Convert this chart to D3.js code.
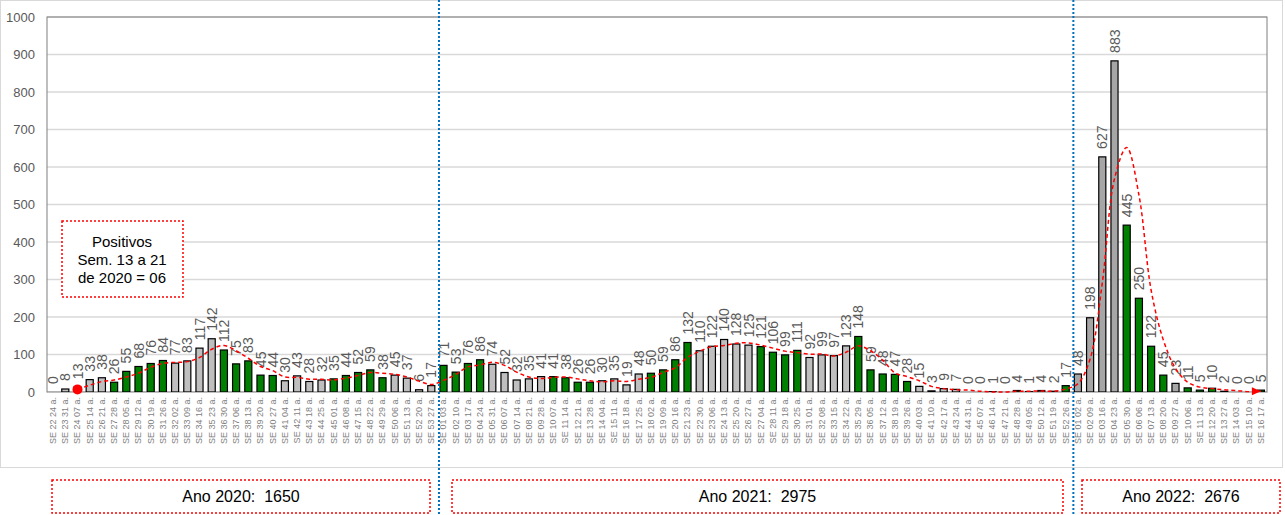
<!DOCTYPE html>
<html>
<head>
<meta charset="utf-8">
<script src="https://cdn.jsdelivr.net/npm/d3@7"></script>
<style>
  body { margin: 0; background: #fff; font-family: "Liberation Sans", Arial, sans-serif; }
  text { font-family: "Liberation Sans", Arial, sans-serif; }
</style>
</head>
<body>
<script>
// semanas epidemiologicas (rotulo do eixo)
var weeks2020 = ["SE 22 24 a.", "SE 23 31 a.", "SE 24 07 a.", "SE 25 14 a.", "SE 26 21 a.", "SE 27 28 a.", "SE 28 05 a.", "SE 29 12 a.",
    "SE 30 19 a.", "SE 31 26 a.", "SE 32 02 a.", "SE 33 09 a.", "SE 34 16 a.", "SE 35 23 a.", "SE 36 30 a.", "SE 37 06 a.",
    "SE 38 13 a.", "SE 39 20 a.", "SE 40 27 a.", "SE 41 04 a.", "SE 42 11 a.", "SE 43 18 a.", "SE 44 25 a.", "SE 45 01 a.",
    "SE 46 08 a.", "SE 47 15 a.", "SE 48 22 a.", "SE 49 29 a.", "SE 50 06 a.", "SE 51 13 a.", "SE 52 20 a.", "SE 53 27 a."];
var vals2020 = [0, 8, 13, 33, 38, 26, 55, 68, 76, 84, 77, 83, 117, 142, 112, 75, 83, 45, 44, 30, 43, 28, 32, 35, 44, 52, 59, 38, 45, 37, 6, 17];
var cols2020 = ["c", "c", "c", "c", "c", "g", "g", "g", "g", "g", "c", "c", "c", "c", "g", "g", "g", "g", "g", "c", "c", "c", "c", "g", "g", "g", "g", "g", "c", "c", "c", "c"];

var weeks2021 = ["SE 01 03 a.", "SE 02 10 a.", "SE 03 17 a.", "SE 04 24 a.", "SE 05 31 a.", "SE 06 07 a.", "SE 07 14 a.", "SE 08 21 a.",
    "SE 09 28 a.", "SE 10 07 a.", "SE 11 14 a.", "SE 12 21 a.", "SE 13 28 a.", "SE 14 04 a.", "SE 15 11 a.", "SE 16 18 a.",
    "SE 17 25 a.", "SE 18 02 a.", "SE 19 09 a.", "SE 20 16 a.", "SE 21 23 a.", "SE 22 30 a.", "SE 23 06 a.", "SE 24 13 a.",
    "SE 25 20 a.", "SE 26 27 a.", "SE 27 04 a.", "SE 28 11 a.", "SE 29 18 a.", "SE 30 25 a.", "SE 31 01 a.", "SE 32 08 a.",
    "SE 33 15 a.", "SE 34 22 a.", "SE 35 29 a.", "SE 36 05 a.", "SE 37 12 a.", "SE 38 19 a.", "SE 39 26 a.", "SE 40 03 a.",
    "SE 41 10 a.", "SE 42 17 a.", "SE 43 24 a.", "SE 44 31 a.", "SE 45 07 a.", "SE 46 14 a.", "SE 47 21 a.", "SE 48 28 a.",
    "SE 49 05 a.", "SE 50 12 a.", "SE 51 19 a.", "SE 52 26 a."];
var vals2021 = [71, 53, 76, 86, 74, 52, 32, 35, 41, 41, 38, 26, 26, 30, 35, 19, 48, 50, 59, 86, 132, 110, 122, 140, 128, 125,
    121, 106, 99, 111, 92, 99, 97, 123, 148, 59, 48, 47, 28, 15, 3, 9, 7, 0, 0, 1, 0, 4, 1, 4, 2, 17];
var cols2021 = ["g", "g", "g", "g", "c", "c", "c", "c", "c", "g", "g", "g", "g", "c", "c", "c", "c", "g", "g", "g", "g", "c", "c", "c", "c", "c",
    "g", "g", "g", "g", "c", "c", "c", "c", "g", "g", "g", "g", "g", "c", "c", "c", "c", "c", "g", "g", "g", "g", "c", "c", "c", "g"];

var weeks2022 = ["SE 01 02 a.", "SE 02 09 a.", "SE 03 16 a.", "SE 04 23 a.", "SE 05 30 a.", "SE 06 06 a.", "SE 07 13 a.", "SE 08 20 a.",
    "SE 09 27 a.", "SE 10 06 a.", "SE 11 13 a.", "SE 12 20 a.", "SE 13 27 a.", "SE 14 03 a.", "SE 15 10 a.", "SE 16 17 a."];
var vals2022 = [48, 198, 627, 883, 445, 250, 122, 45, 23, 11, 5, 10, 2, 0, 0, 5];
var cols2022 = ["d", "d", "d", "d", "g", "g", "g", "g", "d", "g", "g", "g", "g", "g", "g", "g"];

// linha tracejada de tendencia (a partir da 3a semana)
var trendStart = 2;
var trend = [7, 18, 28, 32, 40, 50, 66, 76, 79, 81, 92, 114, 124, 110, 90, 68, 57, 40, 39, 34, 34, 32, 37, 44, 52, 50, 47, 40, 29, 20,
    31, 47, 67, 72, 79, 71, 53, 40, 36, 39, 40, 35, 30, 27, 30, 28, 34, 39, 52, 65, 92, 109, 121, 124, 130, 131, 125, 117, 109, 105,
    101, 101, 96, 106, 123, 110, 85, 51, 41, 30, 15, 9, 6, 5, 2, 0, 0, 2, 2, 3, 2, 8,
    22, 88, 291, 569, 652, 526, 272, 139, 63, 26, 13, 9, 6, 4, 1, 2];

var yTicks = [0, 100, 200, 300, 400, 500, 600, 700, 800, 900, 1000];
var noteLines = ["Positivos", "Sem. 13 a 21", "de 2020 = 06"];
var yearLabels = ["Ano 2020:  1650", "Ano 2021:  2975", "Ano 2022:  2676"];

var labels = weeks2020.concat(weeks2021, weeks2022);
var values = vals2020.concat(vals2021, vals2022);
var cols = cols2020.concat(cols2021, cols2022);
var fills = { g: "#008000", c: "#bfbfbf", d: "#a6a6a6" };

var W = 1285, H = 515;
var plot = { left: 47, top: 17, right: 1267, bottom: 392 };

var svg = d3.select("body").append("svg")
    .attr("width", W)
    .attr("height", H);

// borda do grafico
svg.append("rect")
    .attr("x", 0.5).attr("y", 0.5)
    .attr("width", 1282).attr("height", 467)
    .attr("fill", "none")
    .attr("stroke", "#d9d9d9");

var x = d3.scaleBand()
    .domain(d3.range(values.length))
    .range([plot.left, plot.right])
    .paddingInner(0.42)
    .paddingOuter(0.21);

var y = d3.scaleLinear()
    .domain([0, 1000])
    .range([plot.bottom, plot.top]);

// grade
svg.append("g")
    .selectAll("line")
    .data(yTicks)
    .enter().append("line")
    .attr("x1", plot.left).attr("x2", plot.right)
    .attr("y1", d => y(d)).attr("y2", d => y(d))
    .attr("stroke", "#d9d9d9")
    .attr("stroke-width", 1.5);

svg.append("rect")
    .attr("x", plot.left).attr("y", plot.top)
    .attr("width", plot.right - plot.left).attr("height", plot.bottom - plot.top)
    .attr("fill", "none")
    .attr("stroke", "#7f7f7f");

var yAxis = svg.append("g")
    .attr("transform", "translate(" + plot.left + ",0)")
    .call(d3.axisLeft(y).tickValues(yTicks).tickSize(0).tickPadding(12).tickFormat(d3.format("d")));
yAxis.select(".domain").remove();
yAxis.selectAll("text")
    .attr("fill", "#595959")
    .style("font-size", "13px");

// barras
svg.append("g")
    .selectAll("rect")
    .data(values)
    .enter().append("rect")
    .attr("x", (d, i) => x(i))
    .attr("y", d => y(d))
    .attr("width", x.bandwidth())
    .attr("height", d => y(0) - y(d))
    .attr("fill", (d, i) => fills[cols[i]])
    .attr("stroke", "#000")
    .attr("stroke-width", 1.2);

// eixo x
var xAxis = svg.append("g")
    .attr("transform", "translate(0," + plot.bottom + ")")
    .call(d3.axisBottom(x).tickSize(0).tickFormat(i => labels[i]));
xAxis.select(".domain").attr("stroke", "#bfbfbf");
xAxis.selectAll("text")
    .attr("transform", "rotate(-90)")
    .attr("text-anchor", "end")
    .attr("x", -5)
    .attr("y", 0)
    .attr("dy", "0.32em")
    .attr("fill", "#7f7f7f")
    .style("font-size", "9px");

// rotulos de valores
svg.append("g")
    .selectAll("text")
    .data(values)
    .enter().append("text")
    .attr("transform", (d, i) => "translate(" + (x(i) + x.bandwidth() / 2) + "," + (y(d) - 8) + ") rotate(-90)")
    .attr("dy", "0.36em")
    .attr("fill", "#595959")
    .style("font-size", "14px")
    .text(d => d);

// tendencia
var line = d3.line()
    .x((d, i) => x(i + trendStart) + x.bandwidth() / 2)
    .y(d => y(d))
    .curve(d3.curveCatmullRom.alpha(0.5));

svg.append("path")
    .datum(trend)
    .attr("d", line)
    .attr("fill", "none")
    .attr("stroke", "#ff0000")
    .attr("stroke-width", 1.5)
    .attr("stroke-dasharray", "4,3");

svg.append("circle")
    .attr("cx", x(trendStart) + x.bandwidth() / 2)
    .attr("cy", y(trend[0]))
    .attr("r", 5)
    .attr("fill", "#ff0000");

var lastI = trend.length - 1;
var ax = x(lastI + trendStart) + x.bandwidth() / 2, ay = y(trend[lastI]);
svg.append("path")
    .attr("d", "M" + ax + "," + ay + "l-9,-4l0,8z")
    .attr("fill", "#ff0000");

// separadores de ano
var seps = [vals2020.length, vals2020.length + vals2021.length];
svg.append("g")
    .selectAll("line")
    .data(seps)
    .enter().append("line")
    .attr("x1", d => x(d) - 1).attr("x2", d => x(d) - 1)
    .attr("y1", 0).attr("y2", H)
    .attr("stroke", "#0070c0")
    .attr("stroke-width", 2)
    .attr("stroke-dasharray", "2,2");

// nota
svg.append("rect")
    .attr("x", 62).attr("y", 221)
    .attr("width", 121).attr("height", 76)
    .attr("fill", "#fff")
    .attr("stroke", "#ff0000")
    .attr("stroke-width", 1.5)
    .attr("stroke-dasharray", "2,2");

svg.append("g")
    .selectAll("text")
    .data(noteLines)
    .enter().append("text")
    .attr("x", 122)
    .attr("y", (d, i) => 247 + i * 18)
    .attr("text-anchor", "middle")
    .style("font-size", "15px")
    .attr("fill", "#000")
    .text(d => d);

// totais por ano
var boxes = [[52, 430], [452, 1063], [1082, 1280]];
boxes.forEach(function (b, i) {
    svg.append("rect")
        .attr("x", b[0]).attr("y", 480)
        .attr("width", b[1] - b[0]).attr("height", 33)
        .attr("fill", "#fff")
        .attr("stroke", "#ff0000")
        .attr("stroke-width", 1.5)
        .attr("stroke-dasharray", "2,2");
    svg.append("text")
        .attr("x", (b[0] + b[1]) / 2)
        .attr("y", 502)
        .attr("text-anchor", "middle")
        .style("font-size", "16px")
        .style("white-space", "pre")
        .attr("fill", "#000")
        .text(yearLabels[i]);
});
</script>
</body>
</html>
